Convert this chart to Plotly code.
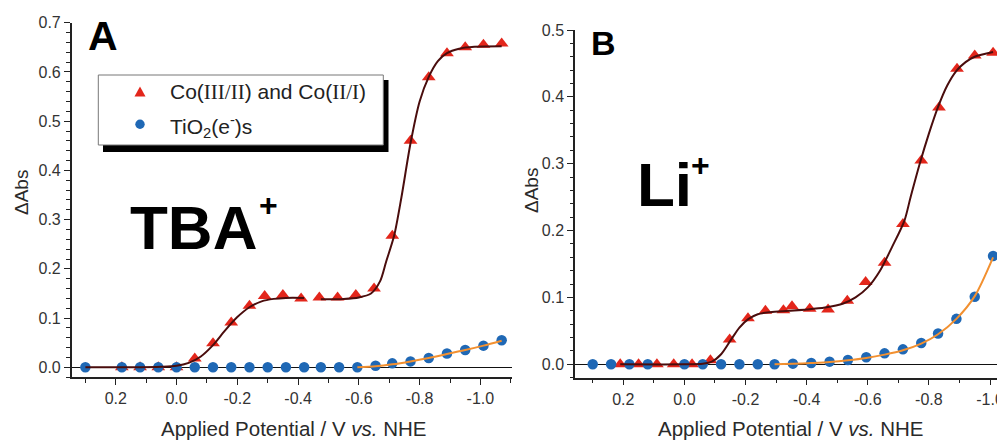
import plotly.graph_objects as go

# ---------------- data ----------------
# Panel A (TBA+)
potA_co = [0.18, 0.12, 0.06, 0.00, -0.06, -0.12, -0.18, -0.24, -0.29, -0.35, -0.41, -0.47,
           -0.53, -0.59, -0.65, -0.71, -0.77, -0.83, -0.89, -0.95, -1.01, -1.07]
absA_co = [0.0, 0.0, 0.0, 0.0, 0.018, 0.049, 0.091, 0.125, 0.145, 0.147, 0.140, 0.142,
           0.142, 0.147, 0.160, 0.267, 0.460, 0.589, 0.638, 0.650, 0.655, 0.658]
potA_ti = [0.30, 0.18, 0.12, 0.06, 0.00, -0.06, -0.12, -0.18, -0.24, -0.30, -0.36, -0.42,
           -0.475, -0.535, -0.595, -0.655, -0.71, -0.77, -0.83, -0.89, -0.95, -1.01, -1.07]
absA_ti = [0.0, 0.0, 0.0, 0.0, 0.0, 0.0, 0.0, 0.0, 0.0, 0.0, 0.0, 0.0,
           0.0, 0.0, 0.0, 0.003, 0.008, 0.012, 0.019, 0.028, 0.035, 0.044, 0.055]
# fitted curves, panel A (Co fit is drawn in two pieces)
fitA1_x = [0.30, 0.15, 0.05, 0.00, -0.04, -0.08, -0.12, -0.16, -0.20, -0.24, -0.28, -0.32, -0.36, -0.42]
fitA1_y = [0.0, 0.0, 0.001, 0.003, 0.009, 0.022, 0.045, 0.075, 0.102, 0.122, 0.134, 0.139, 0.141, 0.141]
fitA2_x = [-0.475, -0.55, -0.60, -0.64, -0.67, -0.69, -0.716, -0.74, -0.77, -0.80, -0.83, -0.86,
           -0.89, -0.93, -0.98, -1.07]
fitA2_y = [0.138, 0.139, 0.142, 0.150, 0.175, 0.215, 0.267, 0.345, 0.455, 0.540, 0.590, 0.622,
           0.638, 0.647, 0.651, 0.652]
fitA3_x = [-0.595, -0.655, -0.71, -0.77, -0.83, -0.89, -0.95, -1.01, -1.07]
fitA3_y = [0.0, 0.002, 0.006, 0.012, 0.019, 0.027, 0.035, 0.044, 0.054]

# Panel B (Li+)
potB_co = [0.21, 0.15, 0.09, 0.035, -0.025, -0.085, -0.148, -0.208, -0.265, -0.324, -0.352,
           -0.41, -0.47, -0.533, -0.593, -0.655, -0.715, -0.775, -0.833, -0.892, -0.95, -1.01]
absB_co = [0.0, 0.0, 0.0, 0.0, 0.0, 0.006, 0.037, 0.069, 0.080, 0.081, 0.087,
           0.083, 0.082, 0.095, 0.123, 0.152, 0.210, 0.305, 0.384, 0.442, 0.462, 0.466]
potB_ti = [0.30, 0.24, 0.18, 0.12, 0.00, -0.06, -0.12, -0.18, -0.24, -0.295, -0.355,
           -0.415, -0.475, -0.535, -0.595, -0.655, -0.715, -0.775, -0.83, -0.89, -0.95, -1.01]
absB_ti = [0.0, 0.0, 0.0, 0.0, 0.0, 0.0, 0.0, 0.0, 0.0, 0.0, 0.001,
           0.002, 0.004, 0.0065, 0.0105, 0.0164, 0.0224, 0.032, 0.046, 0.068, 0.101, 0.162]
fitB1_x = [0.21, 0.00, -0.06, -0.09, -0.12, -0.15, -0.18, -0.21, -0.24, -0.28, -0.34, -0.40,
           -0.46, -0.52, -0.56, -0.60, -0.64, -0.68, -0.72, -0.74, -0.77, -0.80, -0.83, -0.86,
           -0.89, -0.92, -0.95, -1.01]
fitB1_y = [0.0, 0.0, 0.001, 0.004, 0.015, 0.035, 0.055, 0.068, 0.075, 0.078, 0.080, 0.082,
           0.085, 0.091, 0.100, 0.115, 0.140, 0.176, 0.215, 0.250, 0.300, 0.345, 0.385, 0.417,
           0.439, 0.452, 0.460, 0.467]
fitB2_x = [-0.295, -0.355, -0.415, -0.475, -0.535, -0.595, -0.655, -0.715, -0.775, -0.83, -0.89, -0.95, -1.01]
fitB2_y = [0.0, 0.0008, 0.002, 0.0035, 0.006, 0.0095, 0.0145, 0.021, 0.031, 0.045, 0.068, 0.102, 0.160]

# tick labels
x_tickvals = [0.2, 0.0, -0.2, -0.4, -0.6, -0.8, -1.0]
x_ticktext = ["0.2", "0.0", "-0.2", "-0.4", "-0.6", "-0.8", "-1.0"]
yA_tickvals = [0.0, 0.1, 0.2, 0.3, 0.4, 0.5, 0.6, 0.7]
yA_ticktext = ["0.0", "0.1", "0.2", "0.3", "0.4", "0.5", "0.6", "0.7"]
yB_tickvals = [0.0, 0.1, 0.2, 0.3, 0.4, 0.5]
yB_ticktext = ["0.0", "0.1", "0.2", "0.3", "0.4", "0.5"]

series_names = ["Co(III/II) and Co(II/I)", "TiO2(e-)s"]

# ---------------- styling ----------------
# the page body has an 8px margin, so the figure is laid out in window pixels minus 8
OFF = 8
W, H = 1005 - OFF, 440 - OFF
FONT = "Liberation Sans, Arial, Helvetica, sans-serif"
RED = "#e3261b"
BLUE = "#1f68b5"
FITRED = "#4a0d0d"
ORANGE = "#f29030"
AX = "#222222"


def px(x):
    return (x - OFF) / W


def py(y):
    return 1 - (y - OFF) / H


def xaxis_style(domain, rng, anchor):
    return dict(domain=domain, range=rng, anchor=anchor, showline=True, linecolor=AX,
                linewidth=1.5, ticks="outside", ticklen=6, tickwidth=1.3, tickcolor=AX,
                tickmode="array", tickvals=x_tickvals, ticktext=x_ticktext,
                tickfont=dict(size=16, color="#333", family=FONT), showgrid=False,
                zeroline=False, mirror=False,
                minor=dict(ticks="outside", ticklen=3.5, tickwidth=1.2, tickcolor=AX,
                           tickmode="linear", tick0=0, dtick=0.1, showgrid=False))


def yaxis_style(domain, rng, anchor, tv, tt):
    return dict(domain=domain, range=rng, anchor=anchor, showline=True, linecolor=AX,
                linewidth=1.5, ticks="outside", ticklen=6, tickwidth=1.3, tickcolor=AX,
                tickmode="array", tickvals=tv, ticktext=tt,
                tickfont=dict(size=16, color="#333", family=FONT), showgrid=False,
                zeroline=True, zerolinecolor="#111", zerolinewidth=1.3, mirror=False,
                minor=dict(ticks="outside", ticklen=3.5, tickwidth=1.2, tickcolor=AX,
                           tickmode="linear", tick0=0, dtick=0.02, showgrid=False))


fig = go.Figure()


def add_panel(xa, ya, pco, aco, pti, ati, fits_red, fit_orange):
    fig.add_trace(go.Scatter(x=pco, y=aco, mode="markers", xaxis=xa, yaxis=ya,
                             marker=dict(symbol="triangle-up", size=12, color=RED),
                             name=series_names[0], showlegend=False))
    fig.add_trace(go.Scatter(x=pti, y=ati, mode="markers", xaxis=xa, yaxis=ya,
                             marker=dict(symbol="circle", size=10.5, color=BLUE),
                             name=series_names[1], showlegend=False))
    for fx, fy in fits_red:
        fig.add_trace(go.Scatter(x=fx, y=fy, mode="lines", xaxis=xa, yaxis=ya,
                                 line=dict(color=FITRED, width=2, shape="spline", smoothing=0.8),
                                 showlegend=False, hoverinfo="skip"))
    fx, fy = fit_orange
    fig.add_trace(go.Scatter(x=fx, y=fy, mode="lines", xaxis=xa, yaxis=ya,
                             line=dict(color=ORANGE, width=2, shape="spline", smoothing=0.8),
                             showlegend=False, hoverinfo="skip"))


add_panel("x", "y", potA_co, absA_co, potA_ti, absA_ti,
          [(fitA1_x, fitA1_y), (fitA2_x, fitA2_y)], (fitA3_x, fitA3_y))
add_panel("x2", "y2", potB_co, absB_co, potB_ti, absB_ti,
          [(fitB1_x, fitB1_y)], (fitB2_x, fitB2_y))

fig.update_layout(
    width=W, height=H, template="none",
    paper_bgcolor="white", plot_bgcolor="rgba(0,0,0,0)",
    margin=dict(l=0, r=0, t=0, b=0),
    font=dict(family=FONT, color="#222"),
    showlegend=False,
    xaxis=xaxis_style([px(71.7), px(511.7)], [0.345, -1.103], "y"),
    yaxis=yaxis_style([py(377.3), py(22.7)], [-0.0203, 0.7], "x", yA_tickvals, yA_ticktext),
    xaxis2=xaxis_style([px(575), 1.0], [0.358, -1.049], "y2"),
    yaxis2=yaxis_style([py(377.7), py(30)], [-0.02, 0.5], "x2", yB_tickvals, yB_ticktext),
)

ann = []
# axis titles
for cx in (293.5, 791):
    ann.append(dict(x=px(cx), y=py(428), xref="paper", yref="paper", showarrow=False,
                    text="Applied Potential / V <i>vs.</i> NHE", xanchor="center", yanchor="middle",
                    font=dict(size=20.5, color="#2a2a2a", family=FONT)))
for cx, cy in ((22, 193), (531, 191)):
    ann.append(dict(x=px(cx), y=py(cy), xref="paper", yref="paper", showarrow=False,
                    text="ΔAbs", textangle=-90, xanchor="center", yanchor="middle",
                    font=dict(size=19, color="#2a2a2a", family=FONT)))
# panel letters and cation labels
ann.append(dict(x=px(86), y=py(36), xref="paper", yref="paper", showarrow=False, text="<b>A</b>",
                xanchor="left", yanchor="middle", font=dict(size=41, color="black", family=FONT)))
ann.append(dict(x=px(589), y=py(43), xref="paper", yref="paper", showarrow=False, text="<b>B</b>",
                xanchor="left", yanchor="middle", font=dict(size=34, color="black", family=FONT)))
ann.append(dict(x=px(128), y=py(227), xref="paper", yref="paper", showarrow=False,
                text="<b>TBA</b>", xanchor="left", yanchor="middle",
                font=dict(size=62, color="black", family=FONT)))
ann.append(dict(x=px(268.5), y=py(205), xref="paper", yref="paper", showarrow=False,
                text="<b>+</b>", xanchor="center", yanchor="middle",
                font=dict(size=32, color="black", family=FONT)))
ann.append(dict(x=px(635), y=py(184), xref="paper", yref="paper", showarrow=False,
                text="<b>Li</b>", xanchor="left", yanchor="middle",
                font=dict(size=62, color="black", family=FONT)))
ann.append(dict(x=px(700), y=py(165), xref="paper", yref="paper", showarrow=False,
                text="<b>+</b>", xanchor="center", yanchor="middle",
                font=dict(size=32, color="black", family=FONT)))
# legend texts
ann.append(dict(x=px(168), y=py(92), xref="paper", yref="paper", showarrow=False,
                text=("Co(<span style=\"font-family:serif\">III/II</span>) and "
                      "Co(<span style=\"font-family:serif\">II/I</span>)"),
                xanchor="left", yanchor="middle", font=dict(size=21, color="#222", family=FONT)))
ann.append(dict(x=px(168), y=py(126), xref="paper", yref="paper", showarrow=False,
                text="TiO<sub>2</sub>(e<sup>-</sup>)s",
                xanchor="left", yanchor="middle", font=dict(size=21, color="#222", family=FONT)))
fig.update_layout(annotations=ann)

# legend box with drop shadow and symbols
shapes = [
    dict(type="rect", xref="paper", yref="paper", x0=px(103), x1=px(388.5), y0=py(152), y1=py(80),
         fillcolor="black", line=dict(width=0), layer="above"),
    dict(type="rect", xref="paper", yref="paper", x0=px(98.3), x1=px(383.3), y0=py(145), y1=py(75),
         fillcolor="white", line=dict(color="#777", width=1), layer="above"),
    dict(type="path", xref="paper", yref="paper", layer="above",
         path=f"M {px(134.5)} {py(96.5)} L {px(145.5)} {py(96.5)} L {px(140)} {py(86.5)} Z",
         fillcolor=RED, line=dict(width=0)),
    dict(type="circle", xref="paper", yref="paper", layer="above",
         x0=px(135.3), x1=px(144.7), y0=py(129), y1=py(119.6),
         fillcolor=BLUE, line=dict(width=0)),
]
fig.update_layout(shapes=shapes)

fig.write_html("out.html")
